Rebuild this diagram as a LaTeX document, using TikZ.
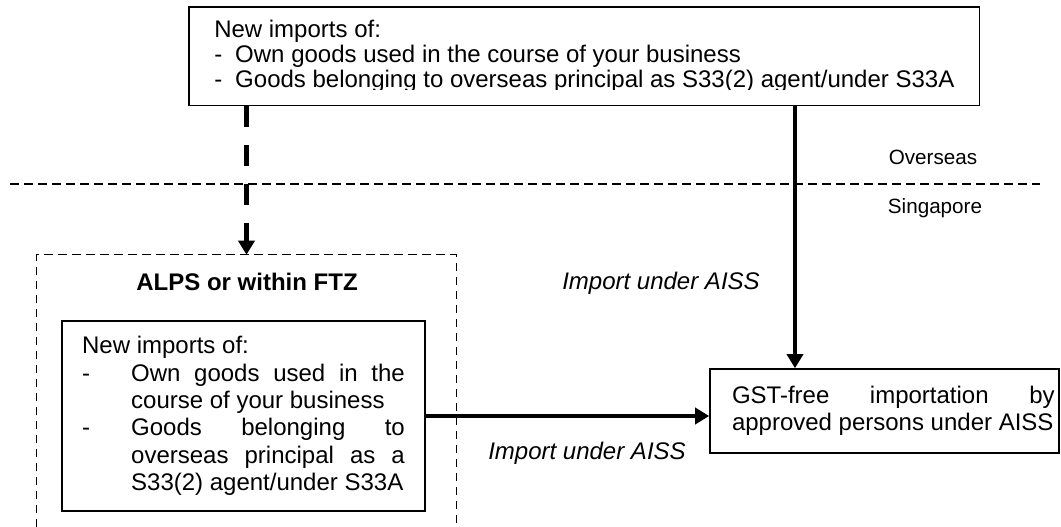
\documentclass[tikz,border=0pt]{standalone}
\usepackage{fontspec}
\setmainfont{Liberation Sans}
\usetikzlibrary{arrows.meta, positioning, fit}
\setlength{\parindent}{0pt}

\tikzset{
  textbox/.style={draw, line width=1.2pt, inner ysep=0pt, font=\fontsize{18}{20.6}\selectfont},
  flow/.style={line width=3.4pt, -{Triangle[length=10.5pt, width=12pt]}},
  border/.style={line width=0.9pt, dash pattern=on 6.5pt off 4pt},
  lbl/.style={font=\fontsize{18}{20.6}\selectfont\itshape},
  side/.style={font=\fontsize{15.5}{18}\selectfont},
}

\begin{document}
\begin{tikzpicture}[x=0.75pt, y=-0.75pt]
\useasboundingbox (0,0) rectangle (1061,527);

% overseas / singapore border
\coordinate (sepL) at (10,184);
\coordinate (sepR) at (1040,184);
\draw[border] (sepL) -- (sepR);
\node[side] (overseas) at (933,157) {Overseas};
\node[side] (singapore) at (935,208) {Singapore};

% goods coming from overseas (last line cut off by the box margin)
\begin{scope}
  \clip (189,7) rectangle (1061,90);
  \node[align=left, anchor=north west, inner xsep=18.75pt, inner ysep=0pt, minimum height=73.5pt,
        font=\fontsize{18}{18.4}\selectfont] (importstext) at (189,7)
    {New imports of:\\
     \makebox[15.75pt][l]{-}Own goods used in the course of your business\\
     \makebox[15.75pt][l]{-}Goods belonging to overseas principal as S33(2) agent/under S33A};
\end{scope}
\node[textbox, fit=(importstext), inner sep=0pt] (imports) {};

% ALPS / FTZ zone (open at the bottom)
\node[minimum width=314.25pt, minimum height=204pt, inner sep=0pt] (zone) at (246.5,391) {};
\draw[border] (zone.south west) |- (zone.north east) -- (zone.south east);
\node[font=\fontsize{18}{20.6}\selectfont\bfseries] (zonetitle) at (247,282) {ALPS or within FTZ};

\node[textbox, align=justify, text width=242pt, inner xsep=15.125pt, minimum height=142.5pt] (zoneimports) at (243.5,416)
  {New imports of:\par
   \hangindent=36.75pt \hangafter=1 \makebox[36.75pt][l]{-}Own goods used in the\linebreak course of your business\par
   \hangindent=36.75pt \hangafter=1 \makebox[36.75pt][l]{-}Goods belonging to\linebreak overseas principal as a\linebreak S33(2) agent/under S33A\par};

% GST-free importation
\node[textbox, align=justify, text width=255.25pt, inner xsep=3.25pt, minimum height=63pt,
      font=\fontsize{18}{20.25}\selectfont] (gst) at (884.5,411)
  {\leftskip=13.25pt GST-free importation by\linebreak approved persons under AISS\par};

% connectors
\coordinate (vx) at (795,0);
\draw[flow] (imports.south -| vx) -- (gst.north -| vx);
\draw[flow] (zoneimports.east) -- (zoneimports.east -| gst.west);
\draw[flow, dash pattern=on 15.75pt off 13.5pt] (imports.south -| zone.north) -- (zone.north);

\node[lbl] (airlabel) at (661,283) {Import under AISS};
\node[lbl] (zonelabel) at (587,453) {Import under AISS};
\end{tikzpicture}
\end{document}
